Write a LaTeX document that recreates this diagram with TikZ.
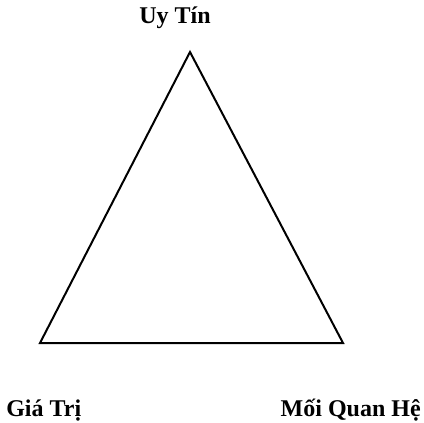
\documentclass[tikz,border=0pt]{standalone}
\usepackage{fontspec}
\setmainfont{Liberation Serif}
\usepackage{tikz}

\begin{document}
\begin{tikzpicture}[x=0.75pt,y=-0.75pt,every node/.style={font=\fontsize{18}{22}\selectfont\bfseries,inner sep=0pt}]
 \useasboundingbox (0,0) rectangle (424,422);
 \coordinate (top) at (190,52);
 \coordinate (left) at (40,343);
 \coordinate (right) at (343,343);
 \draw[line width=1.5pt,line join=miter] (top)--(left)--(right)--cycle;
 \node[anchor=base] (uytin) at (175,23) {Uy Tín};
 \node[anchor=base west] (giatri) at (6,416) {Giá Trị};
 \node[anchor=base east] (moiquanhe) at (421,416) {Mối Quan Hệ};
\end{tikzpicture}
\end{document}
